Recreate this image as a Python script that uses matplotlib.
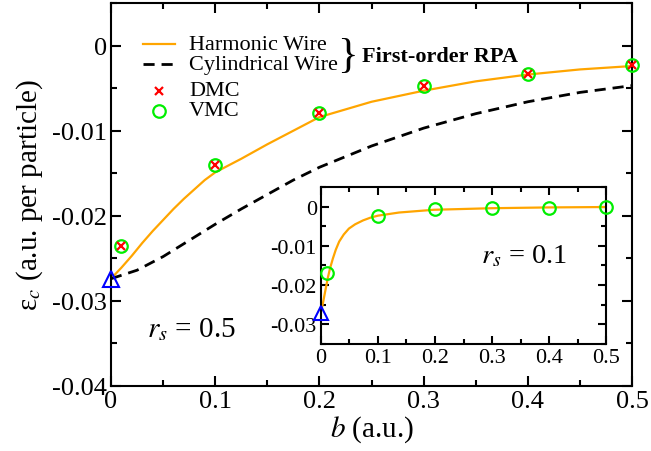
import matplotlib
matplotlib.use("Agg")
import matplotlib.pyplot as plt
from matplotlib.lines import Line2D
from matplotlib.ticker import MultipleLocator, FuncFormatter

plt.rcParams['font.family'] = ['Liberation Serif', 'DejaVu Serif']
plt.rcParams['mathtext.fontset'] = 'stix'
plt.rcParams['axes.unicode_minus'] = False

# ---- main panel (r_s = 0.5) ----
b_harm = [0, 0.01, 0.02, 0.03, 0.04, 0.05, 0.06, 0.07, 0.08, 0.09, 0.10,
          0.125, 0.15, 0.175, 0.20, 0.25, 0.30, 0.35, 0.40, 0.45, 0.50]
e_harm = [-0.0274, -0.0261, -0.0247, -0.0232, -0.0218, -0.0205, -0.0192, -0.0180,
          -0.0169, -0.0158, -0.0149, -0.0133, -0.0116, -0.0100, -0.0084, -0.0066,
          -0.0053, -0.0042, -0.0034, -0.0028, -0.0024]
b_cyl = [0, 0.025, 0.05, 0.075, 0.10, 0.125, 0.15, 0.175, 0.20, 0.25, 0.30,
         0.35, 0.40, 0.45, 0.50]
e_cyl = [-0.0274, -0.0264, -0.0248, -0.0229, -0.0210, -0.0192, -0.0175, -0.0158,
         -0.0143, -0.0118, -0.0097, -0.0080, -0.0066, -0.0055, -0.0047]
b_qmc = [0.01, 0.1, 0.2, 0.3, 0.4, 0.5]
e_dmc = [-0.0236, -0.0140, -0.0079, -0.0048, -0.0033, -0.0023]
e_vmc = [-0.0235, -0.0140, -0.0079, -0.0048, -0.0033, -0.0023]
b_exact = [0.0]
e_exact = [-0.0274]

# ---- inset (r_s = 0.1) ----
b_ins = [0, 0.0035, 0.008, 0.012, 0.016, 0.021, 0.026, 0.032, 0.04, 0.049,
         0.06, 0.074, 0.087, 0.1, 0.137, 0.198, 0.3, 0.4, 0.5]
e_ins = [-0.0270, -0.0246, -0.0212, -0.0182, -0.0157, -0.0132, -0.0110, -0.0089,
         -0.0071, -0.0056, -0.0045, -0.0035, -0.0028, -0.0023, -0.0015, -0.0008,
         -0.0004, -0.0002, -0.0001]
b_ins_vmc = [0.01, 0.1, 0.2, 0.3, 0.4, 0.5]
e_ins_vmc = [-0.0170, -0.0025, -0.0007, -0.0003, -0.0003, -0.0002]
b_ins_exact = [0.0]
e_ins_exact = [-0.0271]

main_xticks = [0, 0.1, 0.2, 0.3, 0.4, 0.5]
main_yticks = [0, -0.01, -0.02, -0.03, -0.04]
inset_yticks = [0, -0.01, -0.02, -0.03]

legend_labels = ['Harmonic Wire', 'Cylindrical Wire', 'DMC', 'VMC']

fmt = FuncFormatter(lambda v, p: '%g' % round(v, 6))

def style_axes(ax, lw, major_len, minor_len, labelsize):
    for s in ax.spines.values():
        s.set_linewidth(lw)
    ax.tick_params(which='both', direction='in', top=True, right=True,
                   width=lw, labelsize=labelsize)
    ax.tick_params(which='major', length=major_len, pad=3)
    ax.tick_params(which='minor', length=minor_len)
    ax.xaxis.set_minor_locator(MultipleLocator(0.05))
    ax.yaxis.set_minor_locator(MultipleLocator(0.005))
    ax.xaxis.set_major_formatter(fmt)
    ax.yaxis.set_major_formatter(fmt)

fig = plt.figure(figsize=(6.51, 4.52), dpi=100)
ax = fig.add_axes([0.1705, 0.144, 0.8005, 0.847])

orange = '#FFA500'
green = '#00EE00'
dash = (0, (4, 2.5))
ax.plot(b_harm, e_harm, color=orange, lw=1.6)
ax.plot(b_cyl, e_cyl, color='black', lw=2.0, ls=dash)
ax.plot(b_qmc, e_dmc, ls='none', marker='x', color='red', ms=5.5, mew=1.6,
        clip_on=False, zorder=4)
ax.plot(b_qmc, e_vmc, ls='none', marker='o', mfc='none', mec=green, ms=9,
        mew=1.6, clip_on=False, zorder=3)
ax.plot(b_exact, e_exact, ls='none', marker='^', mfc='none', mec='blue', ms=11,
        mew=1.5, clip_on=False, zorder=5)

ax.set_xlim(0, 0.5)
ax.set_ylim(-0.04, 0.005)
ax.set_xticks(main_xticks)
ax.set_yticks(main_yticks)
style_axes(ax, 1.5, 7, 4, 19)
ax.set_xlabel('$b$ (a.u.)', fontsize=21, labelpad=1)
ax.set_ylabel('ε$_c$ (a.u. per particle)', fontsize=21, labelpad=5)

# legend (drawn in axes coordinates)
T = ax.transAxes
hx0, hx1, hxm, tx = 0.0614, 0.1228, 0.092, 0.1497
rows = [0.892, 0.840, 0.771, 0.719]
ax.add_line(Line2D([hx0, hx1], [rows[0]] * 2, transform=T, color=orange, lw=1.6))
ax.add_line(Line2D([hx0, hx1], [rows[1]] * 2, transform=T, color='black', lw=2.0, ls=dash))
ax.add_line(Line2D([hxm], [rows[2]], transform=T, ls='none', marker='x', color='red',
                   ms=5.5, mew=1.6))
ax.add_line(Line2D([hxm], [rows[3]], transform=T, ls='none', marker='o', mfc='none',
                   mec=green, ms=9, mew=1.6))
for lab, ry in zip(legend_labels, rows):
    ax.text(tx, ry, lab, transform=T, fontsize=16, ha='left', va='center')
ax.text(0.453, 0.862, '}', transform=T, fontsize=31, ha='center', va='center')
ax.text(0.482, 0.863, 'First-order RPA', transform=T, fontsize=16,
        fontweight='bold', ha='left', va='center')
ax.text(0.035, -0.0333, '$r_s$ = 0.5', fontsize=21, ha='left', va='center')

# inset
ins = fig.add_axes([0.493, 0.237, 0.438, 0.347])
ins.plot(b_ins, e_ins, color=orange, lw=1.6)
ins.plot(b_ins_vmc, e_ins_vmc, ls='none', marker='o', mfc='none', mec=green,
         ms=9, mew=1.6, clip_on=False, zorder=3)
ins.plot(b_ins_exact, e_ins_exact, ls='none', marker='^', mfc='none', mec='blue',
         ms=10, mew=1.5, clip_on=False, zorder=5)
ins.set_xlim(0, 0.5)
ins.set_ylim(-0.035, 0.005)
ins.set_xticks(main_xticks)
ins.set_yticks(inset_yticks)
style_axes(ins, 1.5, 6, 3.5, 16)
ins.text(0.28, -0.0125, '$r_s$ = 0.1', fontsize=20.5, ha='left', va='center')

fig.savefig('out.png', dpi=100)
